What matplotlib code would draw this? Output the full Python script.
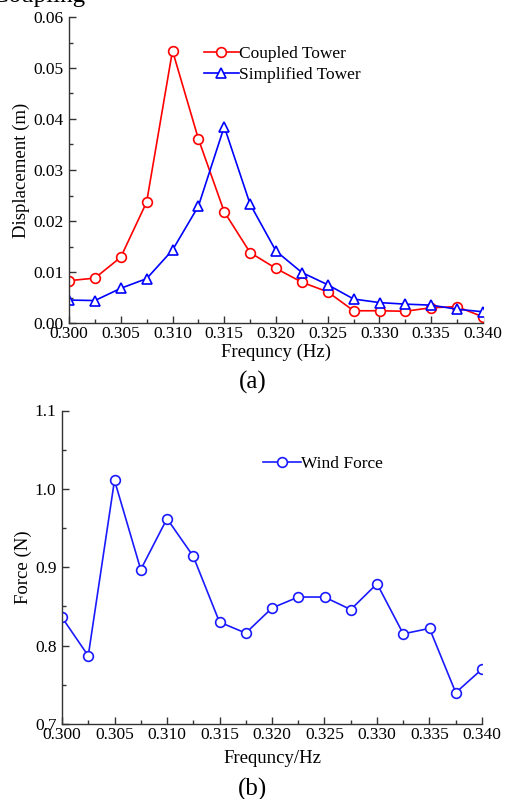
import matplotlib
matplotlib.use("Agg")
import matplotlib.pyplot as plt
from matplotlib.ticker import MultipleLocator, FormatStrFormatter

plt.rcParams['font.family'] = ['Liberation Serif', 'DejaVu Serif']

freq = [0.300, 0.3025, 0.305, 0.3075, 0.310, 0.3125, 0.315, 0.3175, 0.320,
        0.3225, 0.325, 0.3275, 0.330, 0.3325, 0.335, 0.3375, 0.340]

coupled_disp = [0.0083, 0.0088, 0.0129, 0.0237, 0.0534, 0.0361, 0.0218, 0.0138,
                0.0107, 0.0080, 0.0061, 0.0024, 0.0024, 0.0023, 0.0030, 0.0032,
                0.0012]
simplified_disp = [0.0045, 0.0044, 0.0068, 0.0087, 0.0143, 0.0229, 0.0385, 0.0233,
                   0.0141, 0.0099, 0.0075, 0.0047, 0.0040, 0.0037, 0.0035, 0.0027,
                   0.0022]
wind_force = [0.836, 0.787, 1.011, 0.897, 0.962, 0.914, 0.830, 0.816, 0.848,
              0.862, 0.862, 0.846, 0.879, 0.815, 0.822, 0.740, 0.770]

W, H = 505, 799
fig = plt.figure(figsize=(W / 100, H / 100), dpi=100)

TICK_FS = 12.5
LABEL_FS = 13.5
LEGEND_FS = 12.5
PANEL_FS = 18

# heading line sitting above the first panel (mostly off the top edge)
fig.text(-8 / W, 1 - 2 / H, "Coupling", fontsize=PANEL_FS, ha='left',
         va='baseline')


def style_axes(ax):
    ax.spines['top'].set_visible(False)
    ax.spines['right'].set_visible(False)
    for s in ('left', 'bottom'):
        ax.spines[s].set_linewidth(1.0)
        ax.spines[s].set_color('#333333')
    ax.tick_params(which='both', direction='in', labelsize=TICK_FS,
                   color='#333333')
    ax.tick_params(axis='x', pad=2.5)
    ax.tick_params(axis='y', pad=4)
    ax.tick_params(which='major', length=5, width=1)
    ax.tick_params(which='minor', length=3, width=1)


# (a) displacement
ax1 = fig.add_axes([69 / W, 1 - 323 / H, 414 / W, 306 / H])
ax1.plot(freq, coupled_disp, color='#ff0000', lw=1.2, marker='o', ms=7,
         mfc='white', mec='#ff0000', mew=1.2, label='Coupled Tower')
ax1.plot(freq, simplified_disp, color='#0000ff', lw=1.2, marker='^', ms=7.5,
         mfc='white', mec='#0000ff', mew=1.2, label='Simplified Tower')
ax1.set_xlim(0.300, 0.340)
ax1.set_ylim(0.0, 0.06)
ax1.xaxis.set_major_locator(MultipleLocator(0.005))
ax1.xaxis.set_minor_locator(MultipleLocator(0.0025))
ax1.yaxis.set_major_locator(MultipleLocator(0.01))
ax1.yaxis.set_minor_locator(MultipleLocator(0.005))
ax1.xaxis.set_major_formatter(FormatStrFormatter('%.3f'))
ax1.yaxis.set_major_formatter(FormatStrFormatter('%.2f'))
style_axes(ax1)
ax1.set_xlabel('Frequncy (Hz)', fontsize=LABEL_FS, labelpad=1)
ax1.set_ylabel('Displacement (m)', fontsize=LABEL_FS, labelpad=2)
ax1.legend(loc='upper left', bbox_to_anchor=((204 - 69) / 414, (323 - 46) / 306),
           frameon=False, fontsize=LEGEND_FS, handlelength=2.0,
           handletextpad=0.0, labelspacing=0.25, borderaxespad=0,
           borderpad=0)
fig.text(0.5, 1 - 382 / H, '(a)', fontsize=PANEL_FS, ha='center', va='center')

# (b) wind force
ax2 = fig.add_axes([62 / W, 1 - 724 / H, 420 / W, 313.5 / H])
ax2.plot(freq, wind_force, color='#1a1aff', lw=1.2, marker='o', ms=7,
         mfc='white', mec='#1a1aff', mew=1.2, label='Wind Force')
ax2.set_xlim(0.300, 0.340)
ax2.set_ylim(0.7, 1.1)
ax2.xaxis.set_major_locator(MultipleLocator(0.005))
ax2.xaxis.set_minor_locator(MultipleLocator(0.0025))
ax2.yaxis.set_major_locator(MultipleLocator(0.1))
ax2.yaxis.set_minor_locator(MultipleLocator(0.05))
ax2.xaxis.set_major_formatter(FormatStrFormatter('%.3f'))
ax2.yaxis.set_major_formatter(FormatStrFormatter('%.1f'))
style_axes(ax2)
ax2.set_xlabel('Frequncy/Hz', fontsize=LABEL_FS, labelpad=5)
ax2.set_ylabel('Force (N)', fontsize=LABEL_FS, labelpad=2)
ax2.legend(loc='upper left', bbox_to_anchor=((263 - 62) / 420, (724 - 456) / 313.5),
           frameon=False, fontsize=LEGEND_FS, handlelength=2.2,
           handletextpad=0.0, borderaxespad=0, borderpad=0)
fig.text(0.5, 1 - 789 / H, '(b)', fontsize=PANEL_FS, ha='center', va='center')

fig.savefig('out.png', dpi=100)
